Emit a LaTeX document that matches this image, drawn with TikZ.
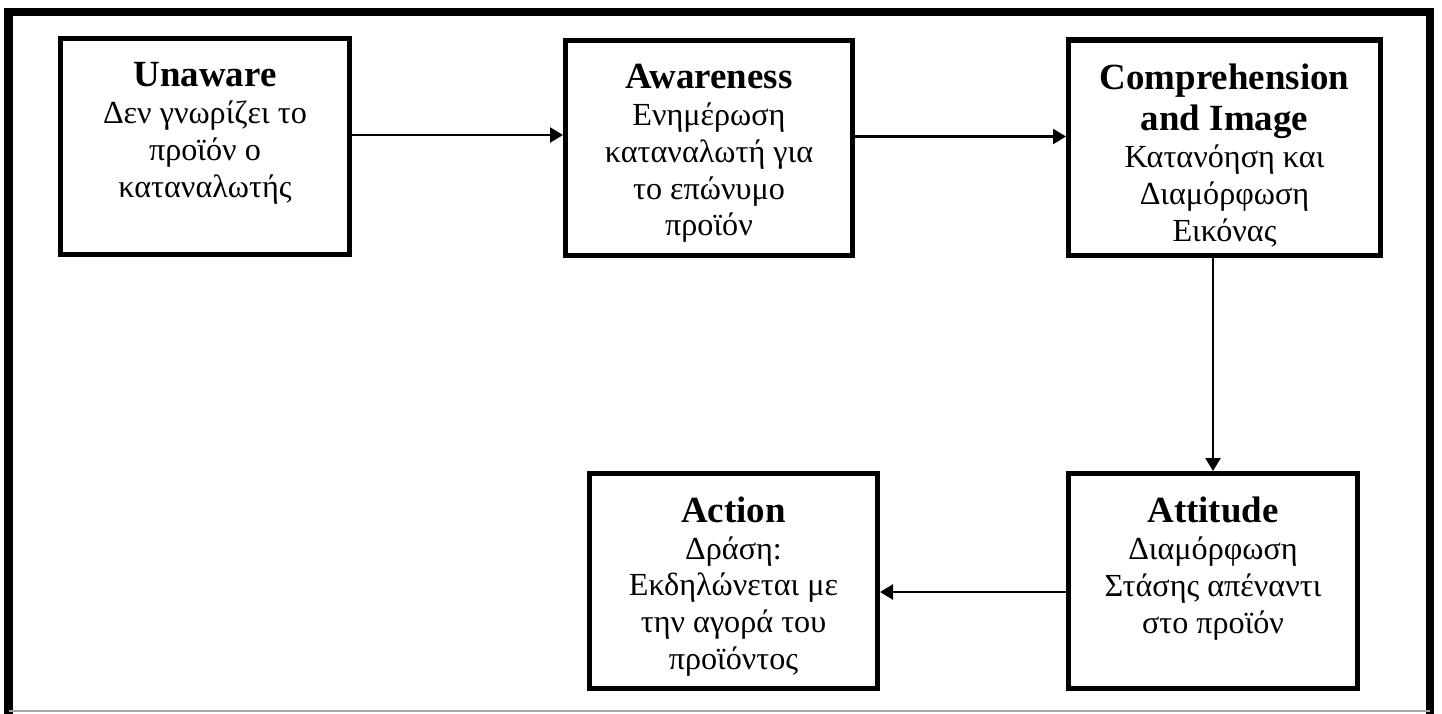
\documentclass[tikz,border=0pt]{standalone}
\usepackage{fontspec}
\setmainfont{Liberation Serif}
\usetikzlibrary{arrows.meta}

\newcommand{\stagehead}[1]{{\fontsize{21}{23.3}\selectfont\bfseries #1}}
\newcommand{\stagetext}[1]{\parbox[c][4.1cm][t]{5.5cm}{\centering\vspace*{0.37cm}#1}}

\tikzset{
  % Stage boxes
  stage/.style={
    rectangle, draw=black, fill=white, line width=0.1cm,
    minimum width=#1, minimum height=4.3cm, inner sep=0.1cm,
    font=\fontsize{18.3}{21}\selectfont,
  },
  stage/.default={5.78cm},
  % Arrows
  flowarrow/.style={-{Triangle[length=0.26cm, width=0.3cm]}, line width=0.05cm},
  % Outer frame
  frameline/.style={line width=0.16cm, line cap=rect},
}

\begin{document}
\begin{tikzpicture}
  \useasboundingbox (0,0) rectangle (28.84,-14.26);

  % Frame
  \draw[frameline] (0.17,-14.26) -- (0.17,-0.24) -- (28.59,-0.24) -- (28.59,-14.20);
  \draw[gray!70, line width=0.04cm] (0.17,-14.22) -- (28.59,-14.22);

  % Top row
  \node[stage] (unaware) at (4.10,-2.93) {\stagetext{
    \stagehead{Unaware}\\
    Δεν γνωρίζει το\\
    προϊόν ο\\
    καταναλωτής}};
  \node[stage=5.74cm] (aware) at (14.18,-2.96) {\stagetext{
    \stagehead{Awareness}\\
    Ενημέρωση\\
    καταναλωτή για\\
    το επώνυμο\\
    προϊόν}};
  \node[stage=6.24cm] (comp) at (24.49,-2.95) {\stagetext{
    \stagehead{Comprehension}\\[2.5pt]
    \stagehead{and Image}\\
    Κατανόηση και\\
    Διαμόρφωση\\
    Εικόνας}};

  % Bottom row
  \node[stage] (attitude) at (24.26,-11.62) {\stagetext{
    \stagehead{Attitude}\\
    Διαμόρφωση\\
    Στάσης απέναντι\\
    στο προϊόν}};
  \node[stage=5.76cm] (action) at (14.67,-11.61) {\stagetext{
    \stagehead{Action}\\
    Δράση:\\
    Εκδηλώνεται με\\
    την αγορά του\\
    προϊόντος}};

  % Arrows
  \draw[flowarrow] ([yshift=0.23cm]unaware.east) -- ([yshift=0.23cm]unaware.east -| aware.west);
  \draw[flowarrow] ([yshift=0.23cm]aware.east) -- ([yshift=0.23cm]aware.east -| comp.west);
  \draw[flowarrow] (comp.south -| attitude.north) -- (attitude.north);
  \draw[flowarrow] ([yshift=-0.22cm]attitude.west) -- ([yshift=-0.22cm]attitude.west -| action.east);
\end{tikzpicture}
\end{document}
